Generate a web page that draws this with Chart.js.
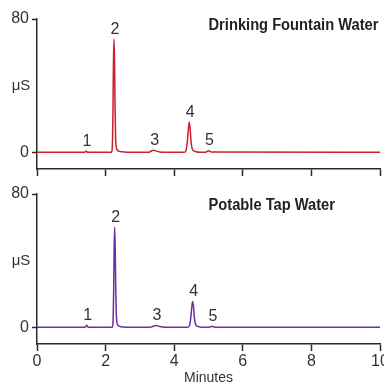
<!DOCTYPE html>
<html>
<head>
<meta charset="utf-8">
<script src="https://cdn.jsdelivr.net/npm/chart.js@4.4.1/dist/chart.umd.min.js"></script>
<style>
  body { margin: 0; background: #fff; }
  #wrap { position: relative; width: 384px; height: 385px; }
  canvas { position: absolute; left: 0; }
</style>
</head>
<body>
<div id="wrap">
  <canvas id="topChart" width="384" height="180" style="top:0"></canvas>
  <canvas id="bottomChart" width="384" height="205" style="top:180px"></canvas>
</div>
<script>
const xTicks = [0, 2, 4, 6, 8, 10];
const yTicks = [0, 80];
const peakLabels = ["1", "2", "3", "4", "5"];

// Drinking Fountain Water (red trace)
const fountainTimes = [0, 1.38, 1.41, 1.43, 1.45, 1.48, 2.17, 2.195, 2.215, 2.23, 2.245, 2.26, 2.275, 2.29, 2.31, 2.34, 2.40, 2.5, 2.65,
  3.25, 3.33, 3.40, 3.47, 3.58, 3.72, 4.30, 4.35, 4.39, 4.42, 4.44, 4.465, 4.49, 4.52, 4.56, 4.62, 4.75, 4.92, 5.0, 5.08, 10];
const fountainValues = [0, 0, 0.4, 0.8, 0.4, 0, 0, 3, 25, 55, 68, 55, 28, 10, 3.5, 1.5, 0.6, 0.3, 0,
  0, 0.8, 1.3, 0.8, 0.2, 0, 0, 1.5, 8, 15.5, 18, 14, 6.5, 2.5, 1, 0.5, 0, 0.1, 1, 0.2, 0];
const fountainPeakTimes = [1.43, 2.245, 3.40, 4.44, 5.0];
const fountainPeakValues = [0.8, 68, 1.3, 18, 1];

// Potable Tap Water (purple trace)
const tapTimes = [0, 1.40, 1.43, 1.45, 1.47, 1.50, 2.19, 2.215, 2.235, 2.25, 2.265, 2.28, 2.295, 2.31, 2.33, 2.36, 2.42, 2.52, 2.68,
  3.30, 3.39, 3.47, 3.55, 3.65, 3.80, 4.40, 4.45, 4.49, 4.52, 4.54, 4.565, 4.59, 4.62, 4.66, 4.72, 4.85, 5.02, 5.10, 5.18, 10];
const tapValues = [0, 0, 0.6, 1.2, 0.6, 0, 0, 3, 22, 48, 60, 48, 24, 9, 3, 1.3, 0.5, 0.2, 0,
  0, 0.7, 1.1, 0.7, 0.2, 0, 0, 1.3, 7, 13.5, 15.5, 12, 5.5, 2, 0.8, 0.4, 0, 0.1, 0.6, 0.1, 0];
const tapPeakTimes = [1.45, 2.265, 3.47, 4.54, 5.10];
const tapPeakValues = [1.2, 60, 1.1, 15.5, 0.6];

const numFont = '"Liberation Sans", Arial, sans-serif';
const titleFont = 'bold 16px "Liberation Sans", Arial, sans-serif';
const axisColor = '#2a2a2a';

// the titles are a condensed face; squeeze so the long one spans ~170px
function titleSqueeze(ctx) {
  ctx.save();
  ctx.font = titleFont;
  const w = ctx.measureText('Drinking Fountain Water').width;
  ctx.restore();
  return Math.min(1, 170 / w);
}

// peak numbers, µS label and panel title
const peakText = {
  id: 'peakText',
  afterDatasetsDraw(chart, args, opts) {
    const {ctx, chartArea} = chart;
    const x = chart.scales.x, y = chart.scales.y;
    ctx.save();
    ctx.fillStyle = '#333';
    ctx.font = '16px ' + numFont;
    ctx.textAlign = 'center';
    ctx.textBaseline = 'alphabetic';
    opts.times.forEach((t, i) => {
      ctx.fillText(peakLabels[i], x.getPixelForValue(t) + 1, y.getPixelForValue(opts.values[i]) - 5.5);
    });
    ctx.font = '15px ' + numFont;
    ctx.textBaseline = 'middle';
    ctx.fillText('μS', chartArea.left - 16, y.getPixelForValue(40));

    const k = titleSqueeze(ctx);
    ctx.font = titleFont;
    ctx.textAlign = 'left';
    ctx.fillStyle = '#222';
    ctx.translate(x.getPixelForValue(5), y.getPixelForValue(opts.titleAt));
    ctx.scale(k, 1);
    ctx.fillText(opts.title, 0, 0);
    ctx.restore();
  }
};

function makeChart(id, times, values, color, peakTimes, peakValues, title, titleAt, showX, padTop, xHeight) {
  return new Chart(document.getElementById(id), {
    type: 'line',
    data: {
      datasets: [{
        data: times.map((t, i) => ({x: t, y: values[i]})),
        borderColor: color,
        borderWidth: 1.5,
        pointRadius: 0,
        cubicInterpolationMode: 'monotone',
        fill: false
      }]
    },
    options: {
      responsive: false,
      animation: false,
      layout: { padding: { top: padTop, right: 4, left: 0, bottom: 0 } },
      plugins: {
        legend: { display: false },
        tooltip: { enabled: false },
        peakText: { times: peakTimes, values: peakValues, title: title, titleAt: titleAt }
      },
      scales: {
        x: {
          type: 'linear',
          min: 0,
          max: 10,
          afterBuildTicks: s => { s.ticks = xTicks.map(v => ({value: v})); },
          afterFit: s => { s.height = xHeight; s.paddingLeft = 0; s.paddingRight = 0; },
          border: { color: axisColor, width: 1.5 },
          grid: { drawOnChartArea: false, tickLength: 7, color: axisColor, tickWidth: 1.5 },
          ticks: { display: showX, padding: 1, color: '#333', font: { family: numFont, size: 16 }, maxRotation: 0 },
          title: { display: showX, text: 'Minutes', color: '#333', padding: 0, font: { family: numFont, size: 14, lineHeight: 1 } }
        },
        y: {
          min: -10,
          max: 80,
          afterBuildTicks: s => { s.ticks = yTicks.map(v => ({value: v})); },
          afterFit: s => { s.width = 37; s.paddingTop = 0; s.paddingBottom = 0; },
          border: { color: axisColor, width: 1.5 },
          grid: { drawOnChartArea: false, tickLength: 5, color: axisColor, tickWidth: 1.5 },
          ticks: { padding: 3, color: '#333', font: { family: numFont, size: 16 } }
        }
      }
    },
    plugins: [peakText]
  });
}

makeChart('topChart', fountainTimes, fountainValues, '#cc1f30', fountainPeakTimes, fountainPeakValues,
  'Drinking Fountain Water', 76, false, 19, 11);
makeChart('bottomChart', tapTimes, tapValues, '#6e2ea6', tapPeakTimes, tapPeakValues,
  'Potable Tap Water', 73, true, 14, 41);
</script>
</body>
</html>
